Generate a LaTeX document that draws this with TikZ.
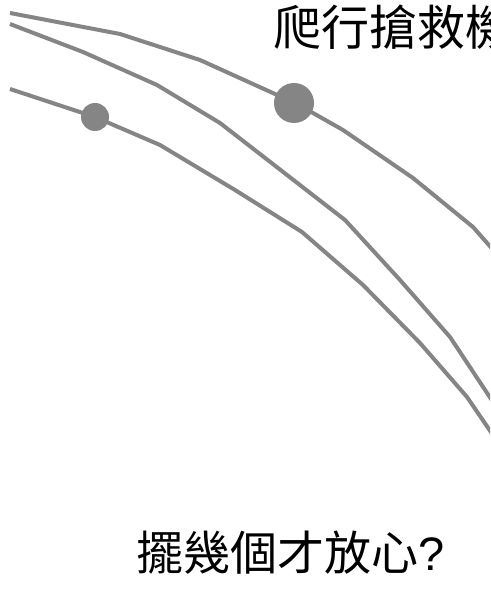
\documentclass[tikz,border=0pt]{standalone}
\usepackage{fontspec}
\newfontfamily\cjk{Noto Sans CJK TC}
\newfontfamily\latin{Liberation Sans}
\tikzset{
  track/.style={draw=trackgray, line width=4pt, line join=round},
  bead/.style={circle, fill=trackgray, inner sep=0pt, minimum size=#1},
  caption/.style={font=\cjk\fontsize{#1}{#1}\selectfont, inner sep=0pt}
}
\definecolor{trackgray}{HTML}{858585}
\begin{document}
\begin{tikzpicture}[x=1pt,y=-1pt]
      \clip (0,0) rectangle (490,612);
      \fill[white] (0,0) rectangle (490,612);
      % tracks
      \draw[track] (10,13) -- (120,34) -- (200,60) -- (275,94) -- (313,113)
        -- (343,130) -- (413,178) -- (473,227) -- (495,252);
      \draw[track] (10,24) -- (83,52) -- (157,85) -- (220,123) -- (345,220)
        -- (400,280) -- (450,337) -- (495,405);
      \draw[track] (10,89) -- (95,117) -- (160,145) -- (235,190) -- (302,232)
        -- (363,285) -- (420,343) -- (467,397) -- (495,438);
      % beads
      \node[bead=40pt] (big) at (294,103) {};
      \node[bead=28pt] (small) at (95,117) {};
      % labels
      \node[caption=48, anchor=west] (top) at (273,27) {爬行搶救機};
      \node[caption=47, anchor=west] (bottom) at (136,553) {擺幾個才放心{\latin ?}};
    \end{tikzpicture}
\end{document}
